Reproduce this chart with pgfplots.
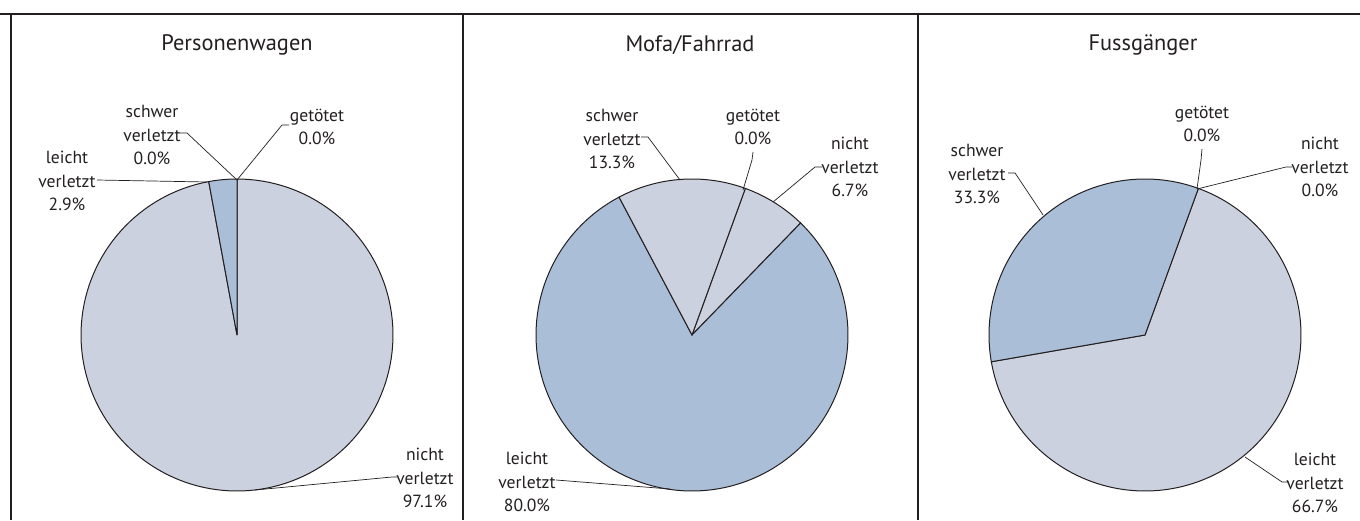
\documentclass[border=0pt]{standalone}
\usepackage{pgfplots}
\pgfplotsset{compat=1.18}
\usepackage{fontspec}
\setmainfont{PT Sans}

\definecolor{pieLight}{RGB}{204,209,224}
\definecolor{pieBlue}{RGB}{170,190,216}
\definecolor{ink}{RGB}{35,31,32}

% one slice, drawn clockwise from \curang; #1 = share in %, #2 = colour
\newcommand\slice[2]{%
  \pgfmathsetmacro\endang{\curang-3.6*#1}%
  \edef\temp{\noexpand\addplot[fill=#2, draw=ink, line width=0.5pt, domain=\endang:\curang, samples=150]
    ({cos(x)},{sin(x)}) -- (axis cs:0,0) -- cycle;}%
  \temp
  \global\let\curang\endang}

\pgfplotsset{pie/.style={
  hide axis, clip=false, scale only axis,
  width=156pt, height=156pt,
  xmin=-1, xmax=1, ymin=-1, ymax=1,
  anchor=center}}

\tikzset{lab/.style={align=center, text=ink, font=\fontsize{8.8}{11.8}\selectfont},
  ttl/.style={text=ink, font=\fontsize{11.2}{14}\selectfont},
  lead/.style={draw=ink, line width=0.35pt}}

\begin{document}
\begin{tikzpicture}[x=0.5pt, y=-0.5pt]
\path[use as bounding box] (0,0) rectangle (1360,520);

% Personenwagen
\begin{axis}[pie, at={(118.5pt,-167.5pt)}]
\gdef\curang{90}
\slice{97.1}{pieLight}
\slice{2.9}{pieBlue}
\end{axis}

% Mofa/Fahrrad
\begin{axis}[pie, at={(346pt,-167.5pt)}]
\gdef\curang{70}
\slice{6.7}{pieLight}
\slice{80.0}{pieBlue}
\slice{13.3}{pieLight}
\end{axis}

% Fussgaenger
\begin{axis}[pie, at={(572.5pt,-167.5pt)}]
\gdef\curang{70}
\slice{66.7}{pieLight}
\slice{33.3}{pieBlue}
\end{axis}

% frame
\draw[ink, line width=1.3pt] (0,14) -- (1360,14);
\draw[ink, line width=1.3pt] (11,14) -- (11,520);
\draw[ink, line width=1.3pt] (463,14) -- (463,520);
\draw[ink, line width=1.3pt] (918,14) -- (918,520);

% titles
\node[ttl] at (237,45) {Personenwagen};
\node[ttl] at (690,45) {Mofa/Fahrrad};
\node[ttl] at (1143,45) {Fussgänger};

% labels panel 1
\node[lab] at (152,135) {schwer\\verletzt\\0.0\%};
\draw[lead] (180,133) -- (187,133) -- (237,180);
\node[lab] at (317,127) {getötet\\0.0\%};
\draw[lead] (289,125) -- (282,125) -- (237,180);
\node[lab] at (67,181) {leicht\\verletzt\\2.9\%};
\draw[lead] (97,180) -- (207,182);
\node[lab] at (425,478) {nicht\\verletzt\\97.1\%};
\draw[lead] (397,477) -- (392,477) -- (255,490);

% labels panel 2
\node[lab] at (612,139) {schwer\\verletzt\\13.3\%};
\draw[lead] (641,137) -- (648,137) -- (680,180);
\node[lab] at (753,127) {getötet\\0.0\%};
\draw[lead] (753,152) -- (752,160) -- (743,190);
\node[lab] at (850,167) {nicht\\verletzt\\6.7\%};
\draw[lead] (822,167) -- (815,167) -- (773,202);
\node[lab] at (527,482) {leicht\\verletzt\\80.0\%};
\draw[lead] (556,480) -- (670,489);

% labels panel 3
\node[lab] at (1202,124) {getötet\\0.0\%};
\draw[lead] (1202,149) -- (1201,160) -- (1197,189);
\node[lab] at (1320,167) {nicht\\verletzt\\0.0\%};
\draw[lead] (1292,167) -- (1286,167) -- (1197,189);
\node[lab] at (977,174) {schwer\\verletzt\\33.3\%};
\draw[lead] (1008,173) -- (1015,173) -- (1043,215);
\node[lab] at (1315,483) {leicht\\verletzt\\66.7\%};
\draw[lead] (1289,482) -- (1282,482) -- (1245,457);
\end{tikzpicture}
\end{document}
